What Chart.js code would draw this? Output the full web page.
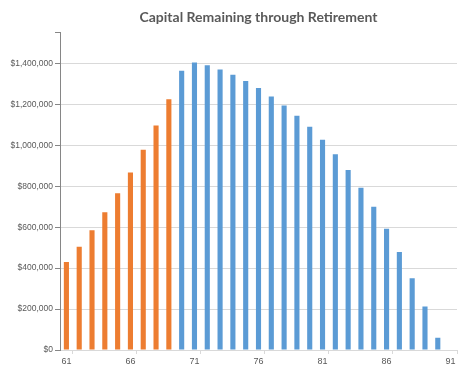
<!DOCTYPE html>
<html>
<head>
<meta charset="utf-8">
<script src="https://cdn.jsdelivr.net/npm/chart.js@4/dist/chart.umd.min.js"></script>
<style>
  html, body { margin: 0; padding: 0; background: #fff; }
</style>
</head>
<body>
<canvas id="capitalchart" width="460" height="370"></canvas>
<script>
// ages on the category axis
const ages = [61, 62, 63, 64, 65, 66, 67, 68, 69, 70, 71, 72, 73, 74, 75, 76,
  77, 78, 79, 80, 81, 82, 83, 84, 85, 86, 87, 88, 89, 90, 91];

// working years (61-69), capital still growing
const accumulation = [430000, 504000, 585000, 673000, 766000, 867000, 978000,
  1097000, 1225000];

// retired years (70-91), capital drawn down
const drawdown = [1365000, 1405000, 1391000, 1371000, 1345000, 1314000, 1280000,
  1239000, 1195000, 1145000, 1091000, 1027000, 957000, 879000, 793000, 700000,
  592000, 479000, 350000, 213000, 60000, 0];

// dollar axis ticks
const yTicks = [0, 200000, 400000, 600000, 800000, 1000000, 1200000, 1400000];
const yMax = 1550000;
const labelEvery = 5;

const orangeData = accumulation.concat(drawdown.map(() => null));
const blueData = accumulation.map(() => null).concat(drawdown);

const grey = "#595959";
const gridGrey = "#d9d9d9";
const axisGrey = "#868686";

const ctx = document.getElementById("capitalchart");

new Chart(ctx, {
  type: "bar",
  data: {
    labels: ages,
    datasets: [
      { data: orangeData, backgroundColor: "#ED7D31", grouped: false },
      { data: blueData, backgroundColor: "#5B9BD5", grouped: false },
    ],
  },
  options: {
    responsive: false,
    animation: false,
    devicePixelRatio: 1,
    barPercentage: 0.4,
    categoryPercentage: 1,
    layout: { padding: { left: 0, right: 3, top: 0, bottom: 0 } },
    plugins: {
      legend: { display: false },
      tooltip: { enabled: false },
      title: {
        display: true,
        text: "Capital Remaining through Retirement",
        color: grey,
        fullSize: false,
        font: { family: "Lato", size: 14, weight: "bold" },
        padding: { top: 9, bottom: 7 },
      },
    },
    scales: {
      x: {
        offset: true,
        border: { color: gridGrey },
        grid: {
          offset: true,
          drawOnChartArea: false,
          tickLength: 4,
          tickColor: (c) =>
            c.type === "tick" ? (c.index % labelEvery === 1 ? gridGrey : "transparent") : gridGrey,
        },
        ticks: {
          autoSkip: false,
          maxRotation: 0,
          color: grey,
          padding: 2,
          font: { family: "Liberation Sans", size: 9 },
          callback: (v, i) => (i % labelEvery === 0 ? ages[i] : ""),
        },
        afterFit: (scale) => { scale.height = 20; },
      },
      y: {
        min: 0,
        max: yMax,
        border: { color: axisGrey },
        afterBuildTicks: (scale) => {
          scale.ticks = yTicks.concat([yMax]).map((v) => ({ value: v }));
        },
        grid: {
          color: (c) => (c.tick && yTicks.includes(c.tick.value) ? gridGrey : "transparent"),
          tickColor: axisGrey,
          tickLength: 5,
        },
        ticks: {
          color: grey,
          padding: 2,
          font: { family: "Liberation Sans", size: 8.5 },
          callback: (v) => (yTicks.includes(v) ? "$" + v.toLocaleString("en-US") : ""),
        },
        afterFit: (scale) => { scale.width = 60; },
      },
    },
  },
});
</script>
</body>
</html>
